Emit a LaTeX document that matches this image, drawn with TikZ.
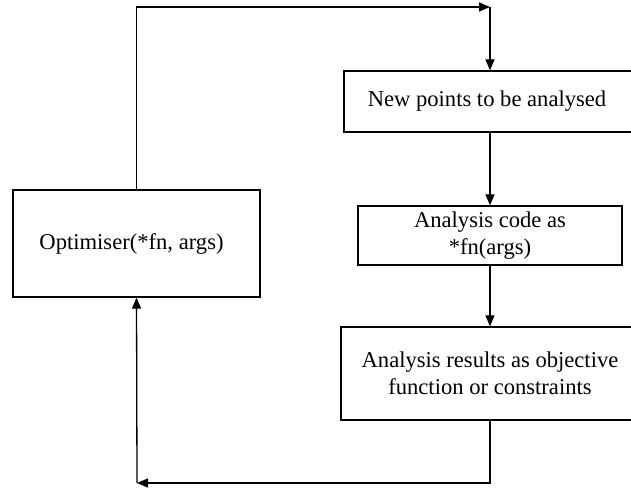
\documentclass[tikz,border=0pt]{standalone}
\usepackage{fontspec}
\setmainfont{Liberation Serif}
\usetikzlibrary{arrows.meta}
\begin{document}
\begin{tikzpicture}[x=1pt,y=-1pt,
  box/.style={draw=black, line width=1.3pt, rectangle, inner sep=0pt,
    align=center, font=\fontsize{22.6}{27}\selectfont},
  arr/.style={draw=black, line width=1.3pt, -{Triangle[length=11pt,width=9pt]}},
  plain/.style={draw=black, line width=1.3pt}]
\useasboundingbox (0,0) rectangle (631,489);
\clip (0,0) rectangle (631,489);
\fill[white] (0,0) rectangle (631,489);
\node[box, minimum width=247pt, minimum height=107pt] (opt) at (136.5,243.5) {Optimiser(*fn, args)\hspace{10pt}};
\node[box, minimum width=290pt, minimum height=61pt] (np) at (489,101.5) {New points to be analysed\hspace{4pt}};
\node[box, minimum width=264pt, minimum height=59pt] (code) at (490,235.5) {Analysis code as\\*fn(args)};
\node[box, minimum width=298pt, minimum height=93pt] (res) at (490,373.5) {Analysis results as objective\\function or constraints};
\coordinate (tr) at (490,7);
\coordinate (bl) at (137,483);
\draw[arr] (opt.north) |- (tr);
\draw[arr] (tr) -- (tr |- np.north);
\draw[arr] (np.south -| code.north) -- (code.north);
\draw[arr] (code.south) -- (res.north);
\draw[arr] (res.south) |- (bl);
\draw[arr] (bl) -- (opt.south);
\end{tikzpicture}
\end{document}
